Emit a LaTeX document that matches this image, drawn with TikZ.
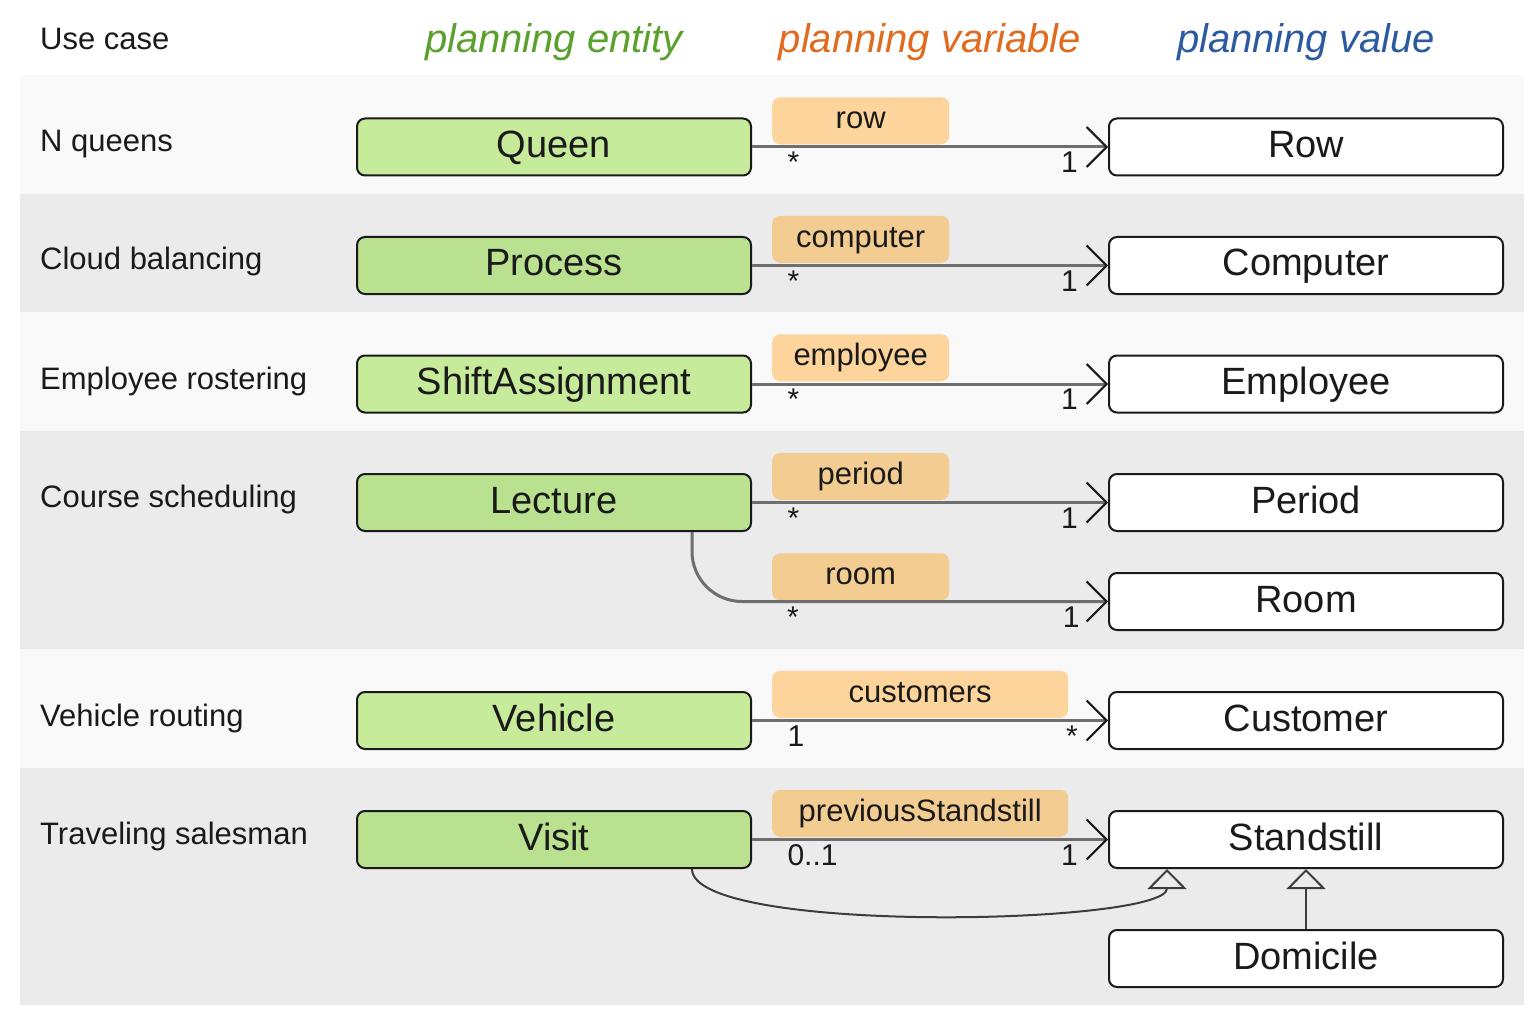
\documentclass[tikz,border=0pt]{standalone}
\usepackage{fontspec}
\setmainfont{Liberation Sans}
\usetikzlibrary{positioning}
\usetikzlibrary{arrows.meta}

\definecolor{rowlight}{HTML}{F9F9F9}
\definecolor{rowdark}{HTML}{EBEBEB}
\definecolor{entlight}{HTML}{C5EB9B}
\definecolor{entdark}{HTML}{B9E18F}
\definecolor{varlight}{HTML}{FDD49B}
\definecolor{vardark}{HTML}{F3CC92}
\definecolor{headgreen}{HTML}{5AA02C}
\definecolor{headorange}{HTML}{E06A1E}
\definecolor{headblue}{HTML}{2C5AA0}
\definecolor{ink}{HTML}{1A1A1A}
\definecolor{linkgray}{HTML}{6E6E6E}

\tikzset{
  usecase/.style={anchor=west, inner sep=0pt, text=ink, text height=22pt, text depth=0pt, font=\fontsize{31}{34}\selectfont},
  coltitle/.style={inner sep=0pt, text height=29pt, text depth=0pt, font=\fontsize{40}{44}\selectfont\itshape},
  classbox/.style={draw=ink, line width=2pt, rounded corners=8pt, minimum width=394pt, minimum height=57pt, inner sep=0pt, text=ink, text height=21pt, text depth=0pt, font=\fontsize{38}{42}\selectfont},
  entity/.style={classbox, fill=entlight},
  entitydark/.style={classbox, fill=entdark},
  valuebox/.style={classbox, fill=white},
  varlabel/.style={fill=varlight, rounded corners=8pt, minimum width=177pt, minimum height=47pt, inner sep=0pt, text=ink, text height=16pt, text depth=0pt, font=\fontsize{31}{34}\selectfont},
  link/.style={draw=linkgray, line width=3pt, -{Straight Barb[length=20pt, width=40pt, line width=2pt, color=ink]}},
  mult/.style={inner sep=2pt, text=ink, text height=22pt, text depth=0pt, font=\fontsize{30}{32}\selectfont},
  inherit/.style={draw=ink!85, line width=2pt, -{Triangle[open, length=20pt, width=39pt, line width=2pt]}}
}

\begin{document}
\begin{tikzpicture}[x=1pt, y=-1pt]
\useasboundingbox (0,0) rectangle (1536,1016);

\fill[rowlight] (20,75) rectangle (1524,194);
\fill[rowdark] (20,194) rectangle (1524,312);
\fill[rowlight] (20,312) rectangle (1524,431);
\fill[rowdark] (20,431) rectangle (1524,649);
\fill[rowlight] (20,649) rectangle (1524,768);
\fill[rowdark] (20,768) rectangle (1524,1005);

\node[usecase] (usecasehead) at (40,39) {Use case};
\node[coltitle, text=headgreen] (entityhead) at (554,38) {planning entity};
\node[coltitle, text=headorange] (variablehead) at (930,38) {planning variable};
\node[coltitle, text=headblue] (valuehead) at (1306,38) {planning value};

\node[usecase] (nqueens) at (40,141) {N queens};
\node[usecase] (cloud) at (40,259) {Cloud balancing};
\node[usecase] (roster) at (40,378) {Employee rostering};
\node[usecase] (course) at (40,496) {Course scheduling};
\node[usecase] (vrp) at (40,715) {Vehicle routing};
\node[usecase] (tsp) at (40,833) {Traveling salesman};

\node[entity] (queen) at (554,147) {Queen};
\node[entitydark] (process) at (554,265.5) {Process};
\node[entity] (shift) at (554,384) {ShiftAssignment};
\node[entitydark] (lecture) at (554,502.5) {Lecture};
\node[entity] (vehicle) at (554,720.5) {Vehicle};
\node[entitydark] (visit) at (554,839.5) {Visit};

\node[valuebox] (rowcls) at (1306,147) {Row};
\node[valuebox] (computer) at (1306,265.5) {Computer};
\node[valuebox] (employee) at (1306,384) {Employee};
\node[valuebox] (period) at (1306,502.5) {Period};
\node[valuebox] (room) at (1306,601.5) {Room};
\node[valuebox] (customer) at (1306,720.5) {Customer};
\node[valuebox] (standstill) at (1306,839.5) {Standstill};
\node[valuebox] (domicile) at (1306,958.5) {Domicile};

\coordinate (roomstart) at (lecture.east |- room.west);

\node[varlabel, above right=2.5pt and 20pt of queen.east] (rowvar) {row};
\node[varlabel, fill=vardark, above right=2.5pt and 20pt of process.east] (computervar) {computer};
\node[varlabel, above right=2.5pt and 20pt of shift.east] (employeevar) {employee};
\node[varlabel, fill=vardark, above right=2.5pt and 20pt of lecture.east] (periodvar) {period};
\node[varlabel, fill=vardark, above right=1pt and 20pt of roomstart] (roomvar) {room};
\node[varlabel, minimum width=296pt, above right=2.5pt and 20pt of vehicle.east] (customersvar) {customers};
\node[varlabel, fill=vardark, minimum width=296pt, above right=2.5pt and 20pt of visit.east] (standstillvar) {previousStandstill};

\draw[link] (queen.east) -- (rowcls.west) node[mult, pos=0.09, anchor=north west] {*} node[mult, pos=0.925, anchor=north east] {1};
\draw[link] (process.east) -- (computer.west) node[mult, pos=0.09, anchor=north west] {*} node[mult, pos=0.925, anchor=north east] {1};
\draw[link] (shift.east) -- (employee.west) node[mult, pos=0.09, anchor=north west] {*} node[mult, pos=0.925, anchor=north east] {1};
\draw[link] (lecture.east) -- (period.west) node[mult, pos=0.09, anchor=north west] {*} node[mult, pos=0.925, anchor=north east] {1};
\draw[link, rounded corners=50pt] ([xshift=138pt]lecture.south) |- (room.west) node[mult, pos=0.61, anchor=north west] {*} node[mult, pos=0.97, anchor=north east] {1};
\draw[link] (vehicle.east) -- (customer.west) node[mult, pos=0.09, anchor=north west] {1} node[mult, pos=0.925, anchor=north east] {*};
\draw[link] (visit.east) -- (standstill.west) node[mult, pos=0.09, anchor=north west] {0..1} node[mult, pos=0.925, anchor=north east] {1};

\draw[inherit] ([xshift=138pt]visit.south) .. controls +(0,66) and +(0,56) .. ([xshift=-139pt]standstill.south);
\draw[inherit] (domicile.north) -- (standstill.south);
\end{tikzpicture}
\end{document}
